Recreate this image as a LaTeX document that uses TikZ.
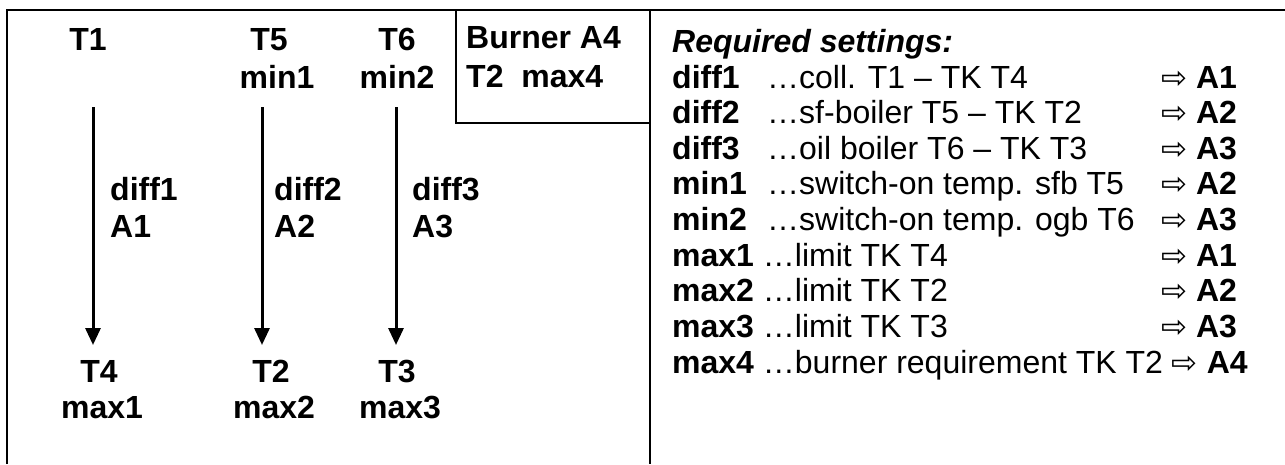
\documentclass[tikz,border=0pt]{standalone}
\usepackage{fontspec}
\setmainfont{Liberation Sans}
\newfontfamily\arrowfont{DejaVu Sans}
\usepackage{tikz}
\usetikzlibrary{positioning, arrows.meta}

\newcommand{\keycol}[1]{\makebox[95pt][l]{\bfseries #1}}
\newcommand{\desccol}[1]{\makebox[394pt][l]{#1}}
\newcommand{\setarrow}{{\arrowfont\fontsize{31}{34}\selectfont ⇨}}

\begin{document}
\begin{tikzpicture}[x=1pt, y=-1pt,
  lbl/.style={font=\fontsize{32}{36}\selectfont\bfseries, inner sep=0pt, anchor=base},
  lblw/.style={lbl, anchor=base west},
  row/.style={font=\fontsize{32}{36}\selectfont, inner sep=0pt, anchor=base west},
  frame/.style={line width=1.8pt},
  flow/.style={-{Triangle[length=17pt,width=15pt]}, line width=3pt}]
\useasboundingbox (0,0) rectangle (1285,464);

% frame
\draw[frame] (7,464) -- (7,10) -- (1285,10);
\draw[frame] (650,10) -- (650,464);
\draw[frame] (456,10) |- (650,123);

% sensors on top
\node[lbl] (t1) at (88,50) {T1};
\node[lbl] (t5) at (269,50) {T5};
\node[lbl] (min1) at (277,88) {min1};
\node[lbl] (t6) at (397,50) {T6};
\node[lbl] (min2) at (397,88) {min2};
\node[lblw] (burner) at (466,48) {Burner A4};
\node[lblw] (max4) at (466,87) {T2~~max4};

% differences
\node[lblw] (diff1) at (110,200) {diff1};
\node[lblw] (a1) at (110,237) {A1};
\node[lblw] (diff2) at (274,200) {diff2};
\node[lblw] (a2) at (274,237) {A2};
\node[lblw] (diff3) at (412,200) {diff3};
\node[lblw] (a3) at (412,237) {A3};

% sensors below
\node[lbl] (t4) at (99,382) {T4};
\node[lbl] (max1) at (102,418) {max1};
\node[lbl] (t2) at (271,382) {T2};
\node[lbl] (max2) at (274,418) {max2};
\node[lbl] (t3) at (397,382) {T3};
\node[lbl] (max3) at (400,418) {max3};

\coordinate (s1) at (93,107);
\coordinate (e1) at (93,345);
\coordinate (s2) at (262,107);
\coordinate (e2) at (262,345);
\coordinate (s3) at (396,107);
\coordinate (e3) at (396,345);
\draw[flow] (s1) -- (e1);
\draw[flow] (s2) -- (e2);
\draw[flow] (s3) -- (e3);

% required settings
\node[row, font=\fontsize{32}{36}\selectfont\bfseries\itshape] (head) at (672,52) {Required settings:};
\node[row] (r1) at (672,88) {\keycol{diff1}\desccol{…coll. T1 – TK T4}\setarrow\ \textbf{A1}};
\node[row] (r2) at (672,123) {\keycol{diff2}\desccol{…sf-boiler T5 – TK T2}\setarrow\ \textbf{A2}};
\node[row] (r3) at (672,159) {\keycol{diff3}\desccol{…oil boiler T6 – TK T3}\setarrow\ \textbf{A3}};
\node[row] (r4) at (672,194) {\keycol{min1}\desccol{…switch-on temp. sfb T5}\setarrow\ \textbf{A2}};
\node[row] (r5) at (672,230) {\keycol{min2}\desccol{…switch-on temp. ogb T6}\setarrow\ \textbf{A3}};
\node[row] (r6) at (672,266) {\makebox[489pt][l]{\textbf{max1} …limit TK T4}\setarrow\ \textbf{A1}};
\node[row] (r7) at (672,301) {\makebox[489pt][l]{\textbf{max2} …limit TK T2}\setarrow\ \textbf{A2}};
\node[row] (r8) at (672,337) {\makebox[489pt][l]{\textbf{max3} …limit TK T3}\setarrow\ \textbf{A3}};
\node[row] (r9) at (672,373) {\textbf{max4} …burner requirement TK T2 \setarrow\ \textbf{A4}};
\end{tikzpicture}
\end{document}
